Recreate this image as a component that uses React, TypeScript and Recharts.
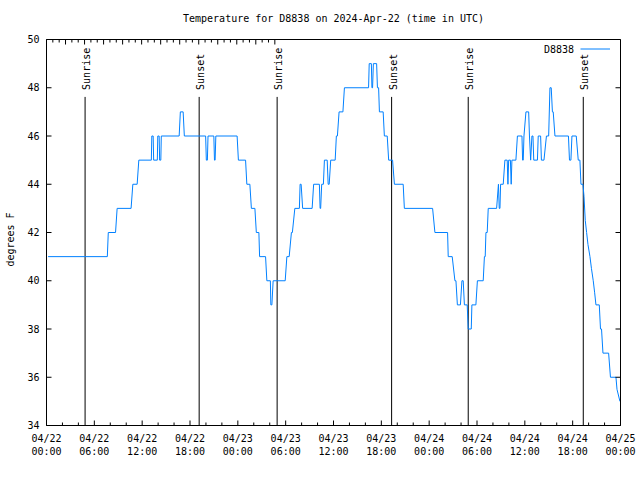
import React from 'react';
import { LineChart, Line, XAxis, YAxis, ReferenceLine, Legend } from 'recharts';

const FONT = '"DejaVu Sans Mono", "Liberation Mono", monospace';
const LINE_COLOR = '#0080ff';

const TITLE = 'Temperature for D8838 on 2024-Apr-22 (time in UTC)';
const SERIES_NAME = 'D8838';
const Y_LABEL = 'degrees F';

// hours since 2024-04-22 00:00 UTC
const hours = [
  0.2, 7.63, 7.75, 8.66, 8.86, 10.61, 10.83, 11.37, 11.58, 13.15, 13.21, 13.38, 13.44, 13.9, 13.96, 14.13,
  14.19, 14.34, 14.4, 16.64, 16.79, 17.14, 17.29, 19.96, 20.05, 20.18, 20.26, 20.99, 21.07, 21.15, 21.24,
  23.91, 24.07, 24.97, 25.13, 25.51, 25.7, 26.14, 26.32, 26.64, 26.73, 27.48, 27.64, 28.08, 28.14, 28.27,
  28.43, 29.94, 30.15, 30.44, 30.72, 30.84, 31.15, 31.72, 31.81, 31.94, 32.13, 33.32, 33.51, 34.23, 34.32,
  34.39, 34.52, 34.73, 34.86, 35.21, 35.33, 35.46, 35.65, 36.21, 36.36, 36.49, 36.7, 37.18, 37.37, 40.4,
  40.48, 40.75, 40.82, 40.9, 41.0, 41.41, 41.51, 41.66, 41.76, 42.23, 42.38, 42.74, 42.92, 43.41, 43.64,
  44.74, 44.89, 48.43, 48.72, 50.31, 50.39, 50.89, 51.23, 51.36, 51.54, 51.92, 52.11, 52.27, 52.42, 52.77,
  52.9, 53.28, 53.36, 53.86, 54.05, 54.78, 54.93, 55.03, 55.12, 55.28, 55.41, 56.46, 56.69, 56.79, 56.88,
  56.96, 57.29, 57.5, 57.79, 57.88, 57.97, 58.19, 58.29, 58.38, 58.88, 59.07, 59.64, 59.72, 59.8, 59.89,
  60.14, 60.48, 60.58, 60.73, 60.89, 61.02, 61.12, 61.58, 61.68, 61.98, 62.08, 62.4, 62.71, 62.99, 63.15,
  63.31, 63.46, 63.56, 63.78, 65.47, 65.6, 65.78, 65.91, 66.45, 66.7, 66.91, 67.04, 67.29, 67.42, 67.58,
  67.75, 67.92, 68.17, 68.36, 68.58, 68.76, 68.92, 69.34, 69.49, 69.62, 69.8, 70.51, 70.74, 71.43, 71.56,
  71.93,
];

const temps = [
  41, 41, 42, 42, 43, 43, 44, 44, 45, 45, 46, 46, 45, 45, 46, 46,
  45, 45, 46, 46, 47, 47, 46, 46, 45, 45, 46, 46, 45, 45, 46,
  46, 45, 45, 44, 44, 43, 43, 42, 42, 41, 41, 40, 40, 39, 39,
  40, 40, 41, 41, 42, 42, 43, 43, 44, 44, 43, 43, 44, 44, 43,
  43, 44, 44, 45, 45, 44, 44, 45, 45, 46, 46, 47, 47, 48, 48,
  49, 49, 48, 48, 49, 49, 48, 48, 47, 47, 46, 46, 45, 45, 44,
  44, 43, 43, 42, 42, 41, 41, 40, 40, 39, 39, 40, 40, 39, 39,
  38, 38, 39, 39, 40, 40, 41, 41, 42, 42, 43, 43, 44, 43, 43,
  44, 44, 45, 45, 44, 45, 45, 44, 45, 45, 46, 46, 45, 45, 46,
  47, 47, 46, 45, 46, 46, 45, 45, 46, 46, 45, 45, 46, 46, 48,
  48, 47, 47, 46, 46, 45, 45, 46, 46, 45, 45, 44, 44, 43.5, 42.5,
  42, 41.5, 41, 40.5, 40, 39.5, 39, 39, 38, 38, 37, 37, 36, 36, 35.5,
  35,
];

const sunEvents = [
  { t: 4.84, label: 'Sunrise' },
  { t: 19.15, label: 'Sunset' },
  { t: 28.93, label: 'Sunrise' },
  { t: 43.29, label: 'Sunset' },
  { t: 52.9, label: 'Sunrise' },
  { t: 67.33, label: 'Sunset' },
];

const xTicks = Array.from({ length: 37 }, (_, i) => i * 2);
const yTicks = [34, 36, 38, 40, 42, 44, 46, 48, 50];
const X_DOMAIN: [number, number] = [0, 72];
const Y_DOMAIN: [number, number] = [34, 50];
const SUN_LINE_TOP = 47.62;

const data = hours.map((t, i) => ({ t, v: temps[i] }));

const pad = (n: number) => (n < 10 ? '0' + n : '' + n);

const BottomTick = (props: any) => {
  const { x, y, payload } = props;
  const t = payload.value as number;
  const major = t % 6 === 0;
  const day = 22 + Math.floor(t / 24);
  const hh = t % 24;
  return (
    <g>
      <line x1={x} y1={y} x2={x} y2={y - (major ? 5 : 3)} stroke="#000" strokeWidth={1} />
      {major && (
        <text x={x} y={y + 16} textAnchor="middle" fontFamily={FONT} fontSize={10} fill="#000">
          {'04/' + day}
        </text>
      )}
      {major && (
        <text x={x} y={y + 29} textAnchor="middle" fontFamily={FONT} fontSize={10} fill="#000">
          {pad(hh) + ':00'}
        </text>
      )}
    </g>
  );
};

const TopTick = (props: any) => {
  const { x, y, payload } = props;
  const t = payload.value as number;
  const major = t % 6 === 0;
  return <line x1={x} y1={y} x2={x} y2={y + (major ? 5 : 3)} stroke="#000" strokeWidth={1} />;
};

const LeftTick = (props: any) => {
  const { x, y, payload } = props;
  return (
    <g>
      <line x1={x} y1={y} x2={x + 5} y2={y} stroke="#000" strokeWidth={1} />
      <text x={x - 7} y={y + 3.5} textAnchor="end" fontFamily={FONT} fontSize={10} fill="#000">
        {payload.value}
      </text>
    </g>
  );
};

const RightTick = (props: any) => {
  const { x, y } = props;
  return <line x1={x} y1={y} x2={x - 5} y2={y} stroke="#000" strokeWidth={1} />;
};

const SunLabel = (props: any) => {
  const { viewBox, value } = props;
  if (!viewBox) return null;
  const tx = viewBox.x + 5;
  const ty = viewBox.y - 7;
  return (
    <text
      x={tx}
      y={ty}
      transform={`rotate(-90 ${tx} ${ty})`}
      textAnchor="start"
      fontFamily={FONT}
      fontSize={10}
      fill="#000"
    >
      {value}
    </text>
  );
};

const LegendContent = () => (
  <svg width={120} height={14} style={{ display: 'block' }}>
    <text x={64} y={10.5} textAnchor="end" fontFamily={FONT} fontSize={10} fill="#000">
      {SERIES_NAME}
    </text>
    <line x1={70.5} y1={7} x2={100} y2={7} stroke={LINE_COLOR} strokeWidth={1} />
  </svg>
);

export default function App() {
  return (
    <div style={{ position: 'absolute', left: 0, top: 0, width: 640, height: 480, background: '#fff' }}>
      <LineChart width={640} height={480} data={data} margin={{ top: 0, right: 0, bottom: 0, left: 0 }}>
        <XAxis
          dataKey="t"
          type="number"
          domain={X_DOMAIN}
          ticks={xTicks}
          interval={0}
          tickSize={0}
          tickMargin={0}
          tickLine={false}
          height={40.5}
          axisLine={{ stroke: '#000' }}
          tick={<BottomTick />}
          allowDataOverflow
        />
        <XAxis
          xAxisId="top"
          orientation="top"
          type="number"
          domain={X_DOMAIN}
          ticks={xTicks}
          interval={0}
          tickSize={0}
          tickMargin={0}
          tickLine={false}
          height={39.5}
          axisLine={{ stroke: '#000' }}
          tick={<TopTick />}
          allowDataOverflow
        />
        <YAxis
          type="number"
          domain={Y_DOMAIN}
          ticks={yTicks}
          interval={0}
          tickSize={0}
          tickMargin={0}
          tickLine={false}
          width={46.5}
          axisLine={{ stroke: '#000' }}
          tick={<LeftTick />}
          allowDataOverflow
        />
        <YAxis
          yAxisId="right"
          orientation="right"
          type="number"
          domain={Y_DOMAIN}
          ticks={yTicks}
          interval={0}
          tickSize={0}
          tickMargin={0}
          tickLine={false}
          width={19.5}
          axisLine={{ stroke: '#000' }}
          tick={<RightTick />}
          allowDataOverflow
        />
        {sunEvents.map((e, i) => (
          <ReferenceLine
            key={i}
            segment={[
              { x: e.t, y: Y_DOMAIN[0] },
              { x: e.t, y: SUN_LINE_TOP },
            ]}
            stroke="#000"
            strokeWidth={1}
            label={<SunLabel value={e.label} />}
            ifOverflow="extendDomain"
          />
        ))}
        <Line
          type="linear"
          dataKey="v"
          stroke={LINE_COLOR}
          strokeWidth={1}
          dot={false}
          activeDot={false}
          isAnimationActive={false}
        />
        <Legend
          content={<LegendContent />}
          wrapperStyle={{ position: 'absolute', left: 510, top: 42, width: 120, height: 14 }}
        />
      </LineChart>
      <svg
        width={640}
        height={480}
        style={{ position: 'absolute', left: 0, top: 0, pointerEvents: 'none' }}
      >
        <text x={333.5} y={22} textAnchor="middle" fontFamily={FONT} fontSize={10} fill="#000">
          {TITLE}
        </text>
        <text
          x={14}
          y={239.5}
          transform="rotate(-90 14 239.5)"
          textAnchor="middle"
          fontFamily={FONT}
          fontSize={10}
          fill="#000"
        >
          {Y_LABEL}
        </text>
      </svg>
    </div>
  );
}
